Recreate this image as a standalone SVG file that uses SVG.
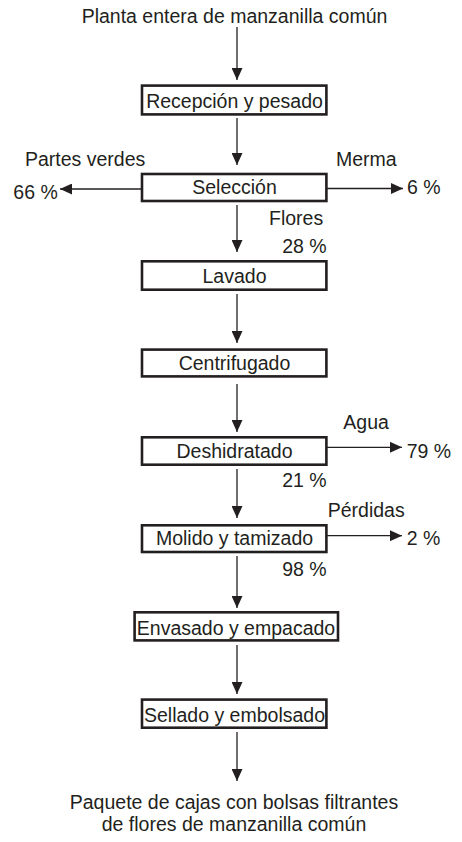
<svg xmlns="http://www.w3.org/2000/svg" width="462" height="842" viewBox="0 0 462 842">
<style>
text{font-family:"Liberation Sans",Arial,sans-serif;font-size:19.5px;fill:#231f20}
.c{text-anchor:middle}
.e{text-anchor:end}
.box{fill:#fff;stroke:#231f20;stroke-width:2.6}
.ln{stroke:#231f20;stroke-width:1.3;fill:none;marker-end:url(#ah)}
</style>
<defs>
<marker id="ah" viewBox="0 0 12 11" refX="12" refY="5.5" markerWidth="12" markerHeight="11" orient="auto" markerUnits="userSpaceOnUse">
<path d="M0,0 L12,5.5 L0,11 z" fill="#231f20"/>
</marker>
</defs>
<rect width="462" height="842" fill="#fff"/>
<g id="connectors">
<line class="ln" x1="237" y1="27" x2="237" y2="80"/>
<line class="ln" x1="237" y1="118" x2="237" y2="165"/>
<line class="ln" x1="237" y1="205" x2="237" y2="252"/>
<line class="ln" x1="237" y1="294" x2="237" y2="343"/>
<line class="ln" x1="237" y1="384" x2="237" y2="432"/>
<line class="ln" x1="237" y1="469" x2="237" y2="518"/>
<line class="ln" x1="237" y1="556" x2="237" y2="608"/>
<line class="ln" x1="237" y1="645" x2="237" y2="694"/>
<line class="ln" x1="237" y1="732" x2="237" y2="781"/>
<line class="ln" x1="141" y1="189" x2="60" y2="189"/>
<line class="ln" x1="327" y1="188.5" x2="403" y2="188.5"/>
<line class="ln" x1="327" y1="447.3" x2="402" y2="447.3"/>
<line class="ln" x1="327" y1="535.7" x2="402" y2="535.7"/>
</g>
<g id="title"><text class="c" x="234.5" y="23">Planta entera de manzanilla común</text></g>
<g id="recepcion"><rect class="box" x="142" y="85.6" width="184.4" height="28.8"/><text class="c" x="234.5" y="108">Recepción y pesado</text></g>
<g id="seleccion"><rect class="box" x="142" y="174" width="184.4" height="27"/><text class="c" x="234.5" y="194.3">Selección</text></g>
<g id="seleccion-labels">
<text x="25" y="165.7">Partes verdes</text>
<text x="336" y="165.7">Merma</text>
<text x="13.3" y="198.5">66 %</text>
<text x="407" y="194.3">6 %</text>
<text x="269" y="225">Flores</text>
<text class="e" x="326.7" y="253.3">28 %</text>
</g>
<g id="lavado"><rect class="box" x="142" y="261.3" width="184.4" height="28.4"/><text class="c" x="234.5" y="283.3">Lavado</text></g>
<g id="centrifugado"><rect class="box" x="142" y="349.6" width="184.4" height="26.8"/><text class="c" x="234.5" y="370">Centrifugado</text></g>
<g id="deshidratado"><rect class="box" x="142" y="437.3" width="184.4" height="27.4"/><text class="c" x="234.5" y="458.3">Deshidratado</text></g>
<g id="deshidratado-labels">
<text x="343.3" y="429">Agua</text>
<text x="406.7" y="458.3">79 %</text>
<text class="e" x="326.7" y="486.7">21 %</text>
</g>
<g id="molido"><rect class="box" x="142" y="525.3" width="184.4" height="26.7"/><text class="c" x="234.5" y="545">Molido y tamizado</text></g>
<g id="molido-labels">
<text x="327.7" y="516.7">Pérdidas</text>
<text x="406.7" y="545">2 %</text>
<text class="e" x="326.7" y="575.7">98 %</text>
</g>
<g id="envasado"><rect class="box" x="134.6" y="612.3" width="203.4" height="28.1"/><text class="c" x="236" y="635">Envasado y empacado</text></g>
<g id="sellado"><rect class="box" x="142" y="699.6" width="184.4" height="28.1"/><text class="c" x="234.5" y="721.7">Sellado y embolsado</text></g>
<g id="producto">
<text class="c" x="234" y="809">Paquete de cajas con bolsas filtrantes</text>
<text class="c" x="234" y="831">de flores de manzanilla común</text>
</g>
</svg>
